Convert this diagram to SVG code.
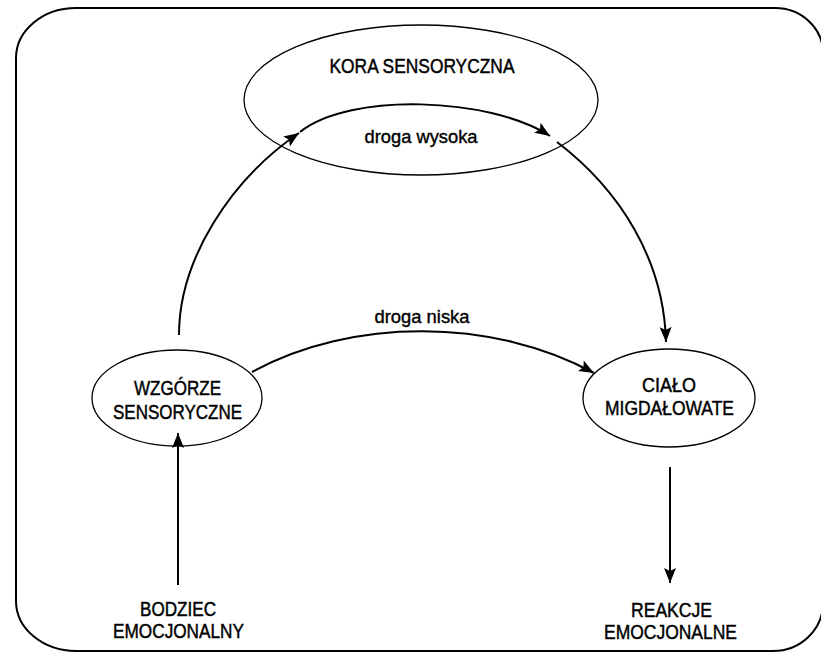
<svg xmlns="http://www.w3.org/2000/svg" width="821" height="653" viewBox="0 0 821 653">
  <style>
    .frame { fill: none; stroke: #000; stroke-width: 2; }
    .node { fill: #fff; stroke: #000; stroke-width: 1.3; }
    .edge { fill: none; stroke: #000; stroke-width: 2; }
    .caps { font-family: "Liberation Sans", Arial, sans-serif; font-size: 20px; fill: #000; stroke: #000; stroke-width: 0.45; text-anchor: middle; }
    .lower { font-family: "Liberation Sans", Arial, sans-serif; font-size: 19px; fill: #000; stroke: #000; stroke-width: 0.4; text-anchor: middle; }
  </style>
  <defs>
    <marker id="arrow" markerUnits="userSpaceOnUse" markerWidth="18" markerHeight="16" viewBox="-16 -8 17 16" refX="0" refY="0" orient="auto">
      <path d="M0,0 L-15,-6 L-12,0 L-15,6 Z" fill="#000"/>
    </marker>
  </defs>

  <rect x="0" y="0" width="821" height="653" fill="#fff"/>

  <!-- outer rounded frame -->
  <path class="frame" d="M76,8 H775 A48,45 0 0 1 823,53 V603 A50,48 0 0 1 773,651 H76 A60,50 0 0 1 16,601 V58 A60,50 0 0 1 76,8 Z"/>

  <!-- nodes -->
  <g id="kora">
    <ellipse class="node" cx="421" cy="100" rx="177" ry="75"/>
    <text class="caps" x="422" y="73" textLength="185" lengthAdjust="spacingAndGlyphs">KORA SENSORYCZNA</text>
  </g>
  <g id="wzgorze">
    <ellipse class="node" cx="177" cy="398" rx="85" ry="48"/>
    <text class="caps" x="177.5" y="395" textLength="87" lengthAdjust="spacingAndGlyphs">WZGÓRZE</text>
    <text class="caps" x="177.5" y="419" textLength="129" lengthAdjust="spacingAndGlyphs">SENSORYCZNE</text>
  </g>
  <g id="cialo">
    <ellipse class="node" cx="669" cy="398" rx="86" ry="49"/>
    <text class="caps" x="669" y="392" textLength="54" lengthAdjust="spacingAndGlyphs">CIAŁO</text>
    <text class="caps" x="669.5" y="415" textLength="129" lengthAdjust="spacingAndGlyphs">MIGDAŁOWATE</text>
  </g>
  <g id="bodziec">
    <text class="caps" x="178" y="616" textLength="76" lengthAdjust="spacingAndGlyphs">BODZIEC</text>
    <text class="caps" x="178.5" y="638" textLength="131" lengthAdjust="spacingAndGlyphs">EMOCJONALNY</text>
  </g>
  <g id="reakcje">
    <text class="caps" x="671.5" y="617" textLength="81" lengthAdjust="spacingAndGlyphs">REAKCJE</text>
    <text class="caps" x="670.5" y="639" textLength="133" lengthAdjust="spacingAndGlyphs">EMOCJONALNE</text>
  </g>

  <!-- connectors -->
  <g id="connectors">
    <!-- stimulus into thalamus -->
    <path class="edge" d="M178,585 V433" marker-end="url(#arrow)"/>
    <!-- high road -->
    <path class="edge" d="M179,335 C179,260 230,180 299,133" marker-end="url(#arrow)"/>
    <path class="edge" d="M300,132 C350,92 490,97 550,136" marker-end="url(#arrow)"/>
    <path class="edge" d="M557,142 C620,190 664,260 666,342" marker-end="url(#arrow)"/>
    <!-- low road -->
    <path class="edge" d="M252,372 C352,317 494,318 594,373" marker-end="url(#arrow)"/>
    <!-- amygdala to response -->
    <path class="edge" d="M670,467 V583" marker-end="url(#arrow)"/>
    <text class="lower" x="421" y="143" textLength="113" lengthAdjust="spacingAndGlyphs">droga wysoka</text>
    <text class="lower" x="422" y="323" textLength="95" lengthAdjust="spacingAndGlyphs">droga niska</text>
  </g>
</svg>
